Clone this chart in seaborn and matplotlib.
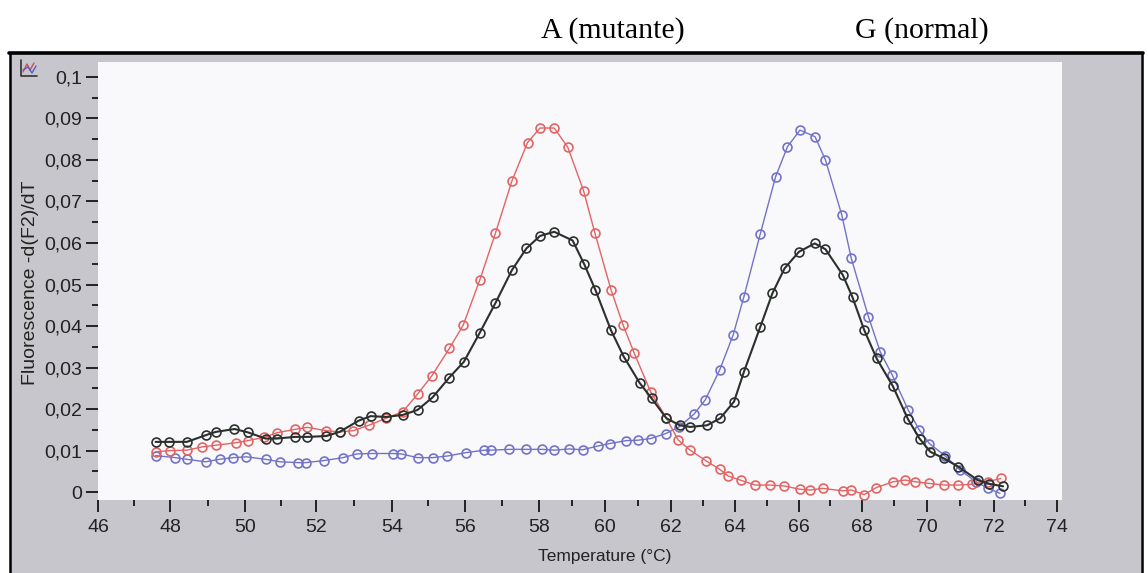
import matplotlib
matplotlib.use("Agg")
import matplotlib.pyplot as plt
from matplotlib import font_manager
from matplotlib.ticker import MultipleLocator, FuncFormatter
from matplotlib.patches import Rectangle
from matplotlib.lines import Line2D
import numpy as np
import seaborn as sns
import pandas as pd

# Melting-curve derivative data (temperature in °C, -d(F2)/dT)
temp_mut = [47.60, 48.00, 48.45, 48.86, 49.23, 49.77, 50.08, 50.54, 50.90, 51.40,
            51.76, 52.26, 52.62, 52.98, 53.39, 53.85, 54.30, 54.70, 55.09, 55.57,
            55.95, 56.40, 56.82, 57.27, 57.69, 58.03, 58.46, 58.87, 59.35, 59.69,
            60.18, 60.55, 60.89, 61.38, 61.86, 62.22, 62.58, 63.08, 63.52, 63.78,
            64.20, 64.63, 65.08, 65.53, 66.02, 66.36, 66.75, 67.40, 67.66, 68.07,
            68.44, 68.96, 69.32, 69.64, 70.05, 70.52, 70.94, 71.35, 71.82, 72.22]
fluo_mut = [0.0097, 0.0100, 0.0101, 0.0109, 0.0113, 0.0119, 0.0124, 0.0132, 0.0143, 0.0151,
            0.0156, 0.0148, 0.0145, 0.0148, 0.0161, 0.0178, 0.0194, 0.0236, 0.0280, 0.0346,
            0.0402, 0.0511, 0.0623, 0.0750, 0.0842, 0.0877, 0.0877, 0.0831, 0.0726, 0.0625,
            0.0488, 0.0402, 0.0334, 0.0242, 0.0178, 0.0126, 0.0102, 0.0076, 0.0055, 0.0039,
            0.0028, 0.0017, 0.0017, 0.0015, 0.0007, 0.0005, 0.0009, 0.0003, 0.0005, -0.0006,
            0.0011, 0.0025, 0.0029, 0.0025, 0.0021, 0.0017, 0.0017, 0.0019, 0.0025, 0.0033]

temp_het = [47.60, 47.96, 48.45, 48.95, 49.22, 49.72, 50.08, 50.58, 50.90, 51.40,
            51.76, 52.26, 52.62, 53.12, 53.44, 53.84, 54.30, 54.70, 55.11, 55.57,
            55.97, 56.40, 56.82, 57.27, 57.66, 58.03, 58.46, 59.02, 59.37, 59.71,
            60.18, 60.57, 61.05, 61.41, 61.86, 62.27, 62.60, 63.13, 63.54, 63.97,
            64.28, 64.79, 65.17, 65.55, 66.00, 66.50, 66.84, 67.39, 67.70, 68.07,
            68.45, 68.95, 69.42, 69.77, 70.10, 70.51, 70.94, 71.51, 71.86, 72.29]
fluo_het = [0.0121, 0.0121, 0.0121, 0.0137, 0.0145, 0.0152, 0.0144, 0.0129, 0.0129, 0.0133,
            0.0133, 0.0135, 0.0145, 0.0172, 0.0183, 0.0181, 0.0186, 0.0198, 0.0228, 0.0276,
            0.0314, 0.0384, 0.0455, 0.0535, 0.0587, 0.0617, 0.0627, 0.0606, 0.0549, 0.0487,
            0.0390, 0.0326, 0.0263, 0.0226, 0.0178, 0.0161, 0.0157, 0.0161, 0.0178, 0.0218,
            0.0290, 0.0398, 0.0479, 0.0539, 0.0579, 0.0599, 0.0585, 0.0523, 0.0469, 0.0390,
            0.0322, 0.0255, 0.0175, 0.0129, 0.0097, 0.0081, 0.0061, 0.0029, 0.0020, 0.0014]

temp_norm = [47.60, 48.14, 48.45, 48.95, 49.32, 49.68, 50.04, 50.58, 50.99, 51.49,
             51.71, 52.21, 52.71, 53.07, 53.48, 54.02, 54.25, 54.70, 55.11, 55.52,
             56.02, 56.52, 56.70, 57.20, 57.65, 58.10, 58.46, 58.92, 59.32, 59.78,
             60.14, 60.64, 61.00, 61.38, 61.84, 62.25, 62.72, 63.07, 63.52, 63.94,
             64.28, 64.79, 65.27, 65.64, 66.03, 66.51, 66.84, 67.36, 67.66, 68.20,
             68.56, 68.93, 69.42, 69.76, 70.07, 70.53, 70.99, 71.46, 71.82, 72.19]
fluo_norm = [0.0088, 0.0083, 0.0079, 0.0073, 0.0079, 0.0083, 0.0085, 0.0079, 0.0073, 0.0071,
             0.0071, 0.0076, 0.0083, 0.0092, 0.0093, 0.0093, 0.0092, 0.0083, 0.0083, 0.0087,
             0.0095, 0.0101, 0.0101, 0.0103, 0.0103, 0.0103, 0.0101, 0.0104, 0.0102, 0.0111,
             0.0117, 0.0124, 0.0125, 0.0129, 0.0141, 0.0157, 0.0188, 0.0222, 0.0294, 0.0378,
             0.0471, 0.0622, 0.0760, 0.0832, 0.0872, 0.0856, 0.0800, 0.0667, 0.0563, 0.0422,
             0.0338, 0.0282, 0.0198, 0.0150, 0.0117, 0.0088, 0.0053, 0.0025, 0.0009, -0.0003]

peak_labels = ["A (mutante)", "G (normal)"]

# temperature axis as printed: tick temperatures and their screen positions
axis_temps = [46, 48, 50, 52, 54, 56, 58, 60, 62, 64, 66, 68, 70, 72, 74]
axis_marks = [98, 170, 245, 316, 392, 465, 539, 605, 671, 735, 799, 862, 927, 994, 1057]

installed = {f.name for f in font_manager.fontManager.ttflist}
axis_font = "Liberation Sans Narrow" if "Liberation Sans Narrow" in installed else "Liberation Sans"
serif_font = "Liberation Serif"

sns.set_style("white")
plt.rcParams["font.family"] = [axis_font, "DejaVu Sans"]

W, H = 1148, 573
fig = plt.figure(figsize=(W / 100, H / 100), dpi=100)
fig.patch.set_facecolor("white")


def fx(px):
    return px / W


def fy(py):
    return 1 - py / H


# gray instrument panel with black frame, kept underneath the plot axes
fig.patches.append(Rectangle((fx(11), 0), fx(1141) - fx(11), fy(54), transform=fig.transFigure,
                             facecolor="#c6c6cc", edgecolor="none", zorder=-5))
fig.lines.append(Line2D([fx(9), fx(1143)], [fy(53), fy(53)], transform=fig.transFigure,
                        color="black", lw=2.6, zorder=-4))
fig.lines.append(Line2D([fx(10), fx(10)], [fy(53), 0], transform=fig.transFigure,
                        color="black", lw=1.8, zorder=-4))
fig.lines.append(Line2D([fx(1142), fx(1142)], [fy(53), 0], transform=fig.transFigure,
                        color="black", lw=1.8, zorder=-4))
# small chart icon in the panel corner
fig.lines.append(Line2D([fx(21), fx(21), fx(37)], [fy(60), fy(76), fy(76)],
                        transform=fig.transFigure, color="#333333", lw=1.2))
fig.lines.append(Line2D([fx(23), fx(27), fx(30), fx(34)], [fy(72), fy(64), fy(70), fy(63)],
                        transform=fig.transFigure, color="#d05050", lw=1.0))
fig.lines.append(Line2D([fx(23), fx(28), fx(32), fx(36)], [fy(70), fy(67), fy(73), fy(66)],
                        transform=fig.transFigure, color="#5a5ad0", lw=1.0))

AX_L, AX_R, AX_T, AX_B = 98, 1062, 62, 500
ax = fig.add_axes([fx(AX_L), fy(AX_B), fx(AX_R) - fx(AX_L), fy(AX_T) - fy(AX_B)])
ax.set_facecolor("#f9f9fb")
for s in ax.spines.values():
    s.set_visible(False)

_t = np.asarray(axis_temps, dtype=float)
_m = np.asarray(axis_marks, dtype=float)
_lo_slope = (_m[1] - _m[0]) / (_t[1] - _t[0])
_hi_slope = (_m[-1] - _m[-2]) / (_t[-1] - _t[-2])


def temp_to_screen(t):
    t = np.asarray(t, dtype=float)
    out = np.interp(t, _t, _m)
    out = np.where(t < _t[0], _m[0] + (t - _t[0]) * _lo_slope, out)
    out = np.where(t > _t[-1], _m[-1] + (t - _t[-1]) * _hi_slope, out)
    return out


def screen_to_temp(p):
    p = np.asarray(p, dtype=float)
    out = np.interp(p, _m, _t)
    out = np.where(p < _m[0], _t[0] + (p - _m[0]) / _lo_slope, out)
    out = np.where(p > _m[-1], _t[-1] + (p - _m[-1]) / _hi_slope, out)
    return out


ax.set_xscale("function", functions=(temp_to_screen, screen_to_temp))

series = [
    (temp_norm, fluo_norm, "#7272c8", 1.0),
    (temp_mut, fluo_mut, "#e26464", 1.0),
    (temp_het, fluo_het, "#2c302c", 1.5),
]
for t, v, col, lw in series:
    df = pd.DataFrame({"T": t, "F": v})
    sns.lineplot(data=df, x="T", y="F", ax=ax, color=col, lw=lw, marker="o",
                 markersize=6.4, markerfacecolor="none", markeredgecolor=col,
                 markeredgewidth=1.2, estimator=None, sort=False)

ax.set_xlim(46, float(screen_to_temp(AX_R)))
ax.set_ylim(-0.0019, 0.1036)

ax.xaxis.set_major_locator(MultipleLocator(2))
ax.xaxis.set_minor_locator(MultipleLocator(1))
ax.yaxis.set_major_locator(MultipleLocator(0.01))
ax.yaxis.set_minor_locator(MultipleLocator(0.005))


def comma_fmt(v, pos):
    v = round(v, 3)
    if abs(v) < 1e-9:
        return "0"
    s = f"{v:.2f}".rstrip("0").rstrip(".")
    return s.replace(".", ",")


ax.yaxis.set_major_formatter(FuncFormatter(comma_fmt))
ax.xaxis.set_major_formatter(FuncFormatter(lambda v, p: f"{v:.0f}"))

ax.tick_params(axis="both", which="both", bottom=True, left=True, top=False, right=False)
ax.tick_params(axis="both", which="major", direction="out", length=8.5, width=1.4,
               color="#222222", labelcolor="#222222", labelsize=14, pad=3)
ax.tick_params(axis="both", which="minor", direction="out", length=4, width=1.4,
               color="#222222")
ax.tick_params(axis="x", which="major", pad=5)

ax.set_xlabel("Temperature (°C)", fontsize=12.5, color="#222222")
ax.xaxis.set_label_coords((605 - AX_L) / (AX_R - AX_L), (AX_B - 549) / (AX_B - AX_T))
ax.set_ylabel("Fluorescence -d(F2)/dT", fontsize=14, color="#222222")
ax.yaxis.set_label_coords((39 - AX_L) / (AX_R - AX_L), (AX_B - 283) / (AX_B - AX_T))

fig.text(fx(613), fy(31), peak_labels[0], family=serif_font, fontsize=21.5,
         ha="center", va="center", color="black")
fig.text(fx(922), fy(31), peak_labels[1], family=serif_font, fontsize=21.5,
         ha="center", va="center", color="black")

fig.savefig("out.png", dpi=100, facecolor=fig.get_facecolor())
